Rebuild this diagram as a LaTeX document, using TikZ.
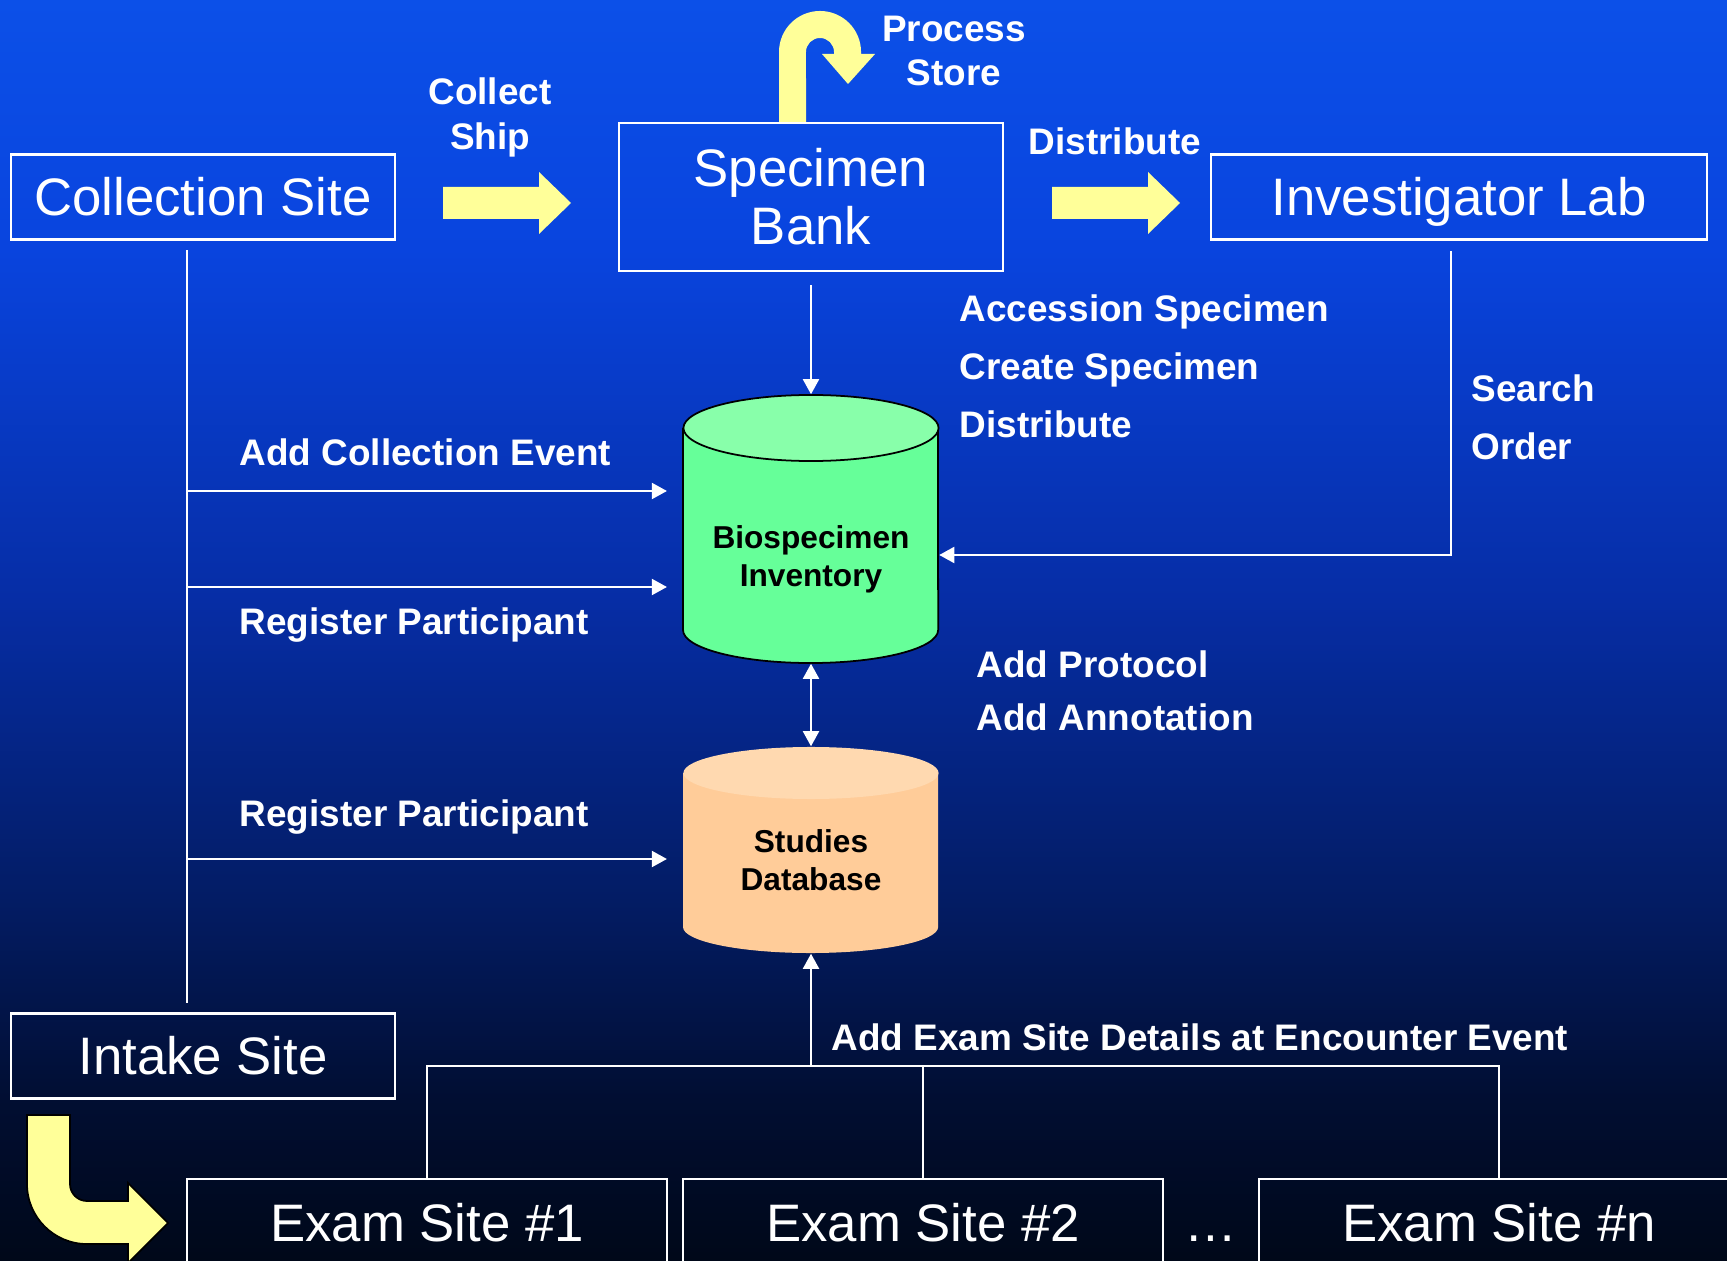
\documentclass[tikz,border=0pt]{standalone}
\usepackage{fontspec}
\setmainfont{Liberation Sans}
\usepackage{xcolor}
\usepackage{tikz}
\usetikzlibrary{arrows.meta}

\definecolor{bgtop}{RGB}{12,80,232}
\definecolor{bgupper}{RGB}{9,68,222}
\definecolor{bgmid}{RGB}{6,45,165}
\definecolor{bglower}{RGB}{3,28,100}
\definecolor{bgdeep}{RGB}{1,14,50}
\definecolor{bgbottom}{RGB}{0,8,25}
\definecolor{arrowyellow}{RGB}{255,255,153}
\definecolor{invbody}{RGB}{102,255,153}
\definecolor{invtop}{RGB}{136,255,170}
\definecolor{studybody}{RGB}{255,204,153}
\definecolor{studytop}{RGB}{255,217,176}

\pgfdeclareverticalshading{slidebg}{100bp}{color(0bp)=(bgbottom); color(25bp)=(bgbottom); color(31.4bp)=(bgdeep); color(39.3bp)=(bglower); color(51.2bp)=(bgmid); color(65.1bp)=(bgupper); color(75bp)=(bgtop); color(100bp)=(bgtop)}

\begin{document}
\begin{tikzpicture}[x=0.01cm, y=-0.01cm, >={Triangle[length=4.3pt, width=4.6pt]},
        site/.style={draw=white, line width=0.6pt, text=white, inner sep=0pt, minimum height=0.85cm, font=\fontsize{15}{16.5}\selectfont, align=center},
        oneline/.style={text height=10.8pt, text depth=0pt},
        lbl/.style={text=white, inner sep=0pt, font=\bfseries\fontsize{10.5}{16.5}\selectfont, align=left},
        conn/.style={white, line width=0.5pt},
        dbshape/.style={inner sep=0pt, minimum width=2.55cm},
        dbtext/.style={text=black, inner sep=0pt, font=\bfseries\fontsize{9}{10.8}\selectfont, align=center},
        yarrow/.style={fill=arrowyellow}]
        \clip (0, 0) rectangle (1727, 1261);
        \shade [shading=slidebg] (0, 0) rectangle (1727, 1261);

        % yellow flow arrows
        \foreach \x in {443, 1052}{
            \fill [yarrow] (\x, 187) -- ++(96, 0) -- ++(0, -15) -- ++(32, 31) -- ++(-32, 31) -- ++(0, -15) -- ++(-96, 0) -- cycle;
        }
        \fill [yarrow] (779, 123) -- (779, 52) arc [start angle=180, end angle=0, radius=0.41cm] -- (861, 54) -- (875, 54) -- (848, 84) -- (822, 54) -- (834, 54) -- (834, 52) arc [start angle=0, end angle=180, radius=0.14cm] -- (806, 123) -- cycle;
        \filldraw [yarrow, draw=black, line width=0.5pt] (27, 1115) -- (27, 1184) arc [start angle=180, end angle=270, radius=0.6cm] -- (128, 1244) -- (128, 1263) -- (168, 1223) -- (128, 1183) -- (128, 1201) -- (87, 1201) arc [start angle=270, end angle=180, radius=0.17cm] -- (70, 1115) -- cycle;

        % sites
        \node [site, oneline, minimum width=3.83cm] (csite) at (203, 197) {Collection Site};
        \node [site, minimum width=3.83cm, minimum height=1.48cm] (sbank) at (811, 197) {Specimen\\Bank};
        \node [site, oneline, minimum width=4.96cm] (ilab) at (1459, 197) {Investigator Lab};
        \node [site, oneline, minimum width=3.83cm] (intake) at (203, 1056) {Intake Site};
        \foreach \name/\x/\txt in {exam1/427/Exam Site \#1, exam2/923/Exam Site \#2, examn/1499/Exam Site \#n}{
            \node [site, oneline, minimum width=4.8cm, minimum height=0.88cm] (\name) at (\x, 1223) {\txt};
        }
        \node [oneline, text=white, inner sep=0pt, font=\fontsize{15}{16.5}\selectfont] (dots) at (1211, 1223) {…};

        % databases
        \filldraw [fill=invbody, draw=black, line width=0.5pt] (683, 428) -- (683, 630) arc [start angle=180, end angle=360, x radius=1.275cm, y radius=0.33cm] -- (938, 428);
        \filldraw [fill=invtop, draw=black, line width=0.5pt] (811, 428) ellipse [x radius=1.275cm, y radius=0.33cm];
        \node [dbshape, minimum height=2.68cm] (biosp) at (811, 529) {};
        \node [dbtext] (biosptext) at (811, 559) {Biospecimen\\Inventory};
        \fill [studybody] (683, 773) -- (683, 927) arc [start angle=180, end angle=360, x radius=1.275cm, y radius=0.26cm] -- (938, 773) -- cycle;
        \fill [studytop] (811, 773) ellipse [x radius=1.275cm, y radius=0.26cm];
        \node [dbshape, minimum height=2.06cm] (studies) at (811, 850) {};
        \node [dbtext] (studiestext) at (811, 860) {Studies\\Database};

        % connectors
        \coordinate (spine) at (187, 0);
        \draw [conn, shorten <=2.8pt, shorten >=2.8pt] (spine |- csite.south) -- (spine |- intake.north);
        \foreach \i/\y/\db in {1/491/biosp, 2/587/biosp, 3/859/studies}{
            \coordinate (ev\i) at (187, \y);
            \draw [conn, ->, shorten >=4.5pt] (ev\i) -- (\db.west |- ev\i);
        }
        \draw [conn, ->, shorten <=3.7pt] (sbank.south) -- (biosp.north);
        \coordinate (search) at (1451, 555);
        \draw [conn, ->, shorten <=3pt] (ilab.south -| search) -- (search) -- (biosp.east |- search);
        \draw [conn, <->] (biosp.south) -- (studies.north);
        \coordinate (join) at (811, 1066);
        \draw [conn, ->] (join) -- (studies.south);
        \draw [conn] (exam1.north) -- (exam1.north |- join) -- (examn.north |- join) -- (examn.north);
        \draw [conn] (exam2.north) -- (exam2.north |- join);

        % labels
        \node [lbl, align=center, font=\bfseries\fontsize{10.5}{12.8}\selectfont] (collect) at (490, 117) {Collect\\Ship};
        \node [lbl, align=center, font=\bfseries\fontsize{10.5}{12.5}\selectfont] (process) at (954, 51) {Process\\Store};
        \node [lbl] (distlbl) at (1115, 141) {Distribute};
        \node [lbl, anchor=west] (accession) at (959, 366) {Accession Specimen\\Create Specimen\\Distribute};
        \node [lbl, anchor=west] (searchlbl) at (1471, 417) {Search\\Order};
        \node [lbl, anchor=west] (addevent) at (239, 452) {Add Collection Event};
        \node [lbl, anchor=west] (register1) at (239, 625) {Register Participant};
        \node [lbl, anchor=west] (register2) at (239, 817) {Register Participant};
        \node [lbl, anchor=west, font=\bfseries\fontsize{10.5}{15}\selectfont] (protocol) at (976, 691) {Add Protocol\\Add Annotation};
        \node [lbl, anchor=west] (examdetail) at (831, 1037) {Add Exam Site Details at Encounter Event};
\end{tikzpicture}
\end{document}
